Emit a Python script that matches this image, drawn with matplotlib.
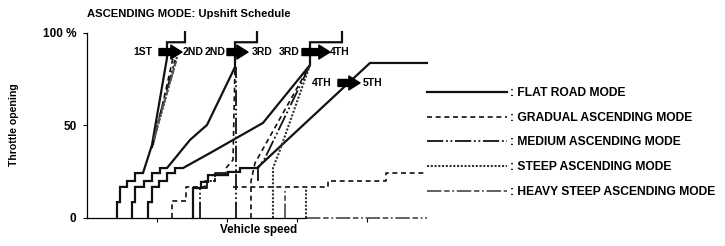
import matplotlib
matplotlib.use('Agg')
import matplotlib.pyplot as plt

plt.rcParams['font.family'] = ['Liberation Sans', 'DejaVu Sans']
plt.rcParams['font.weight'] = 'bold'

# vehicle speed (arbitrary units) / throttle opening (%)
flat_x = [
    [30, 30, 33, 33, 40, 40, 48, 48, 56, 65, 80, 80, 98, 98],
    [45, 45, 48, 48, 57, 57, 65, 65, 73, 73, 80, 103, 120, 148, 148, 170, 170],
    [61, 61, 65, 65, 72, 72, 80, 80, 88, 88, 96, 123, 176, 223, 223, 255, 255],
    [106, 106, 114, 114, 121, 121, 141, 141, 153, 153, 170, 283, 340],
]
flat_y = [
    [0, 8.6, 8.6, 16.8, 16.8, 20, 20, 24.3, 24.3, 39.5, 86.5, 95, 95, 100.5],
    [0, 8.6, 8.6, 16.8, 16.8, 20, 20, 24.3, 24.3, 27, 27, 42.2, 50.3, 81.6, 95, 95, 100.5],
    [0, 8.6, 8.6, 16.8, 16.8, 20, 20, 24.3, 24.3, 27, 27, 35.1, 51.4, 82.7, 95, 95, 100.5],
    [0, 16.2, 16.2, 19.5, 19.5, 23.2, 23.2, 24.9, 24.9, 27, 27, 83.8, 83.8],
]

gradual_x = [
    [65, 71, 86],
    [85, 85, 99, 99, 118, 118, 128, 128, 139, 139, 146, 148],
    [164, 164, 168, 223],
    [146, 241, 241, 299, 299, 340],
]
gradual_y = [
    [37.8, 50.3, 86.5],
    [0, 9.2, 9.2, 16.8, 16.8, 20, 20, 23.2, 23.2, 27, 31.4, 81.6],
    [0, 20, 29.7, 82.7],
    [16.8, 16.8, 20, 20, 24.3, 24.3],
]

medium_x = [
    [66, 71, 88],
    [149, 149],
    [171, 171, 178, 223],
    [113, 113, 120, 120, 128, 128, 139],
    [313, 340],
]
medium_y = [
    [39.5, 51.9, 85.4],
    [0, 81.6],
    [20, 27, 32.4, 82.7],
    [0, 16.2, 16.2, 20, 20, 24.3, 24.3],
    [83.8, 83.8],
]

steep_x = [
    [68, 73, 90],
    [186, 186, 193, 223],
    [219, 219],
]
steep_y = [
    [44.9, 54.1, 87],
    [0, 27, 36.8, 82.7],
    [0, 16.8],
]

heavy_x = [
    [67, 72, 89],
    [198, 198],
    [219, 340],
]
heavy_y = [
    [42.2, 53, 84.3],
    [0, 16.2],
    [0, 0],
]

modes = [
    (': FLAT ROAD MODE', flat_x, flat_y, dict(color='#111111', lw=1.6, ls='-')),
    (': GRADUAL ASCENDING MODE', gradual_x, gradual_y, dict(color='#111111', lw=1.2, ls=(0, (3, 2.2)))),
    (': MEDIUM ASCENDING MODE', medium_x, medium_y, dict(color='#111111', lw=1.3, ls=(0, (9, 1.5, 1, 1.5, 1, 1.5)))),
    (': STEEP ASCENDING MODE', steep_x, steep_y, dict(color='#333333', lw=1.5, ls=(0, (1, 0.8)))),
    (': HEAVY STEEP ASCENDING MODE', heavy_x, heavy_y, dict(color='#555555', lw=1.3, ls=(0, (8, 1.5, 3, 1.5, 1, 1.5)))),
]

fig = plt.figure(figsize=(7.25, 2.46), dpi=100)
ax = fig.add_axes([87 / 725, 28 / 246, 340 / 725, 190 / 246])

handles = []
for label, xs, ys, style in modes:
    for i, (x, y) in enumerate(zip(xs, ys)):
        line, = ax.plot(x, y, clip_on=False, solid_joinstyle='miter',
                        label=label if i == 0 else None, **style)
        if i == 0:
            handles.append(line)

ax.set_xlim(0, 340)
ax.set_ylim(0, 102.7)
for s in ['top', 'right']:
    ax.spines[s].set_visible(False)
ax.spines['left'].set_bounds(0, 100)
ax.spines['bottom'].set_bounds(0, 219)
ax.spines['left'].set_linewidth(0.9)
ax.spines['bottom'].set_linewidth(0.9)

ax.set_xticks([70, 140, 210, 280])
ax.set_xticklabels([])
ax.set_yticks([0, 50, 100])
ax.set_yticklabels(['0', '50', '100 %'], fontsize=8.5, fontweight='bold')
ax.tick_params(axis='both', direction='out', length=3, width=0.8, pad=4.5)

ax.set_xlabel('Vehicle speed', fontsize=8.4, fontweight='bold')
ax.xaxis.set_label_coords(0.506, -0.03)
ax.set_ylabel('Throttle opening', fontsize=7.6, fontweight='bold')
ax.yaxis.set_label_coords(-0.2, 0.49)
fig.text(87 / 725, 1 - 14 / 246, 'ASCENDING MODE: Upshift Schedule',
         fontsize=8.1, fontweight='bold', va='center', ha='left')

# gear change labels and arrows
arrow = dict(arrowstyle='simple,head_width=1.0,head_length=0.8,tail_width=0.5',
             color='black', shrinkA=0, shrinkB=0, mutation_scale=10)
for x0, x1, y in [(72, 95, 89.7), (140, 161, 89.7), (215, 243, 89.7), (251, 273, 73)]:
    ax.annotate('', xy=(x1, y), xytext=(x0, y), arrowprops=arrow, annotation_clip=False)
for x, y, t in [(65, 89.7, '1ST'), (139, 89.7, '2ND'), (213, 89.7, '3RD'), (245, 73, '4TH')]:
    ax.text(x, y, t, fontsize=7.5, fontweight='bold', ha='right', va='center')
for x, y, t in [(96, 89.7, '2ND'), (165, 89.7, '3RD'), (243, 89.7, '4TH'), (276, 73, '5TH')]:
    ax.text(x, y, t, fontsize=7.5, fontweight='bold', ha='left', va='center')

leg = ax.legend(handles=handles, loc='upper left', bbox_to_anchor=(421 / 725, 1 - 81 / 246),
                bbox_transform=fig.transFigure, frameon=False,
                handlelength=6.6, handletextpad=0.3, labelspacing=1.05, borderpad=0,
                prop={'weight': 'bold', 'size': 8.7})

fig.savefig('out.png', dpi=100)
